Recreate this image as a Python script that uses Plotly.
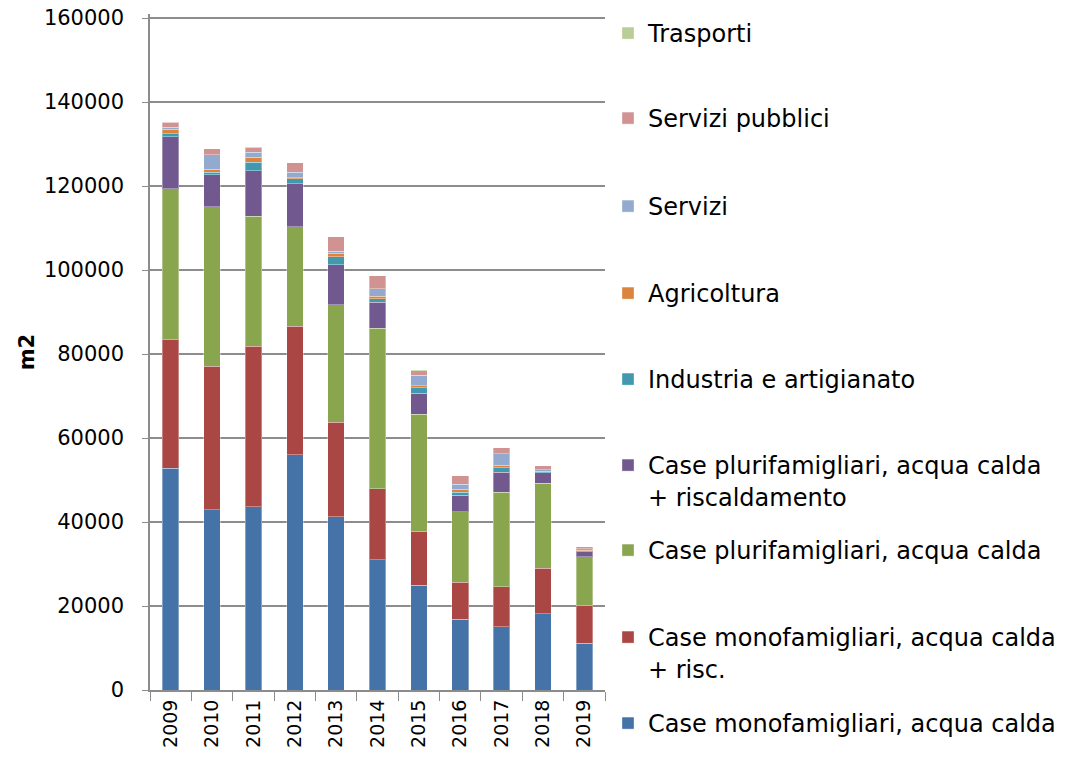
import plotly.graph_objects as go

years = ["2009", "2010", "2011", "2012", "2013", "2014", "2015", "2016", "2017", "2018", "2019"]

mono_acqua = [52800, 42900, 43600, 56000, 41200, 31000, 25000, 16900, 15100, 18200, 11100]
mono_risc = [30600, 34200, 38200, 30600, 22500, 16900, 12800, 8800, 9500, 10800, 9000]
pluri_acqua = [36000, 38000, 31000, 23700, 28000, 38200, 27800, 16700, 22500, 20200, 11600]
pluri_risc = [12300, 7600, 10800, 10200, 9600, 6200, 5100, 4000, 4800, 2500, 1200]
industria = [800, 600, 2000, 1200, 1900, 900, 1300, 700, 1000, 300, 300]
agricoltura = [1000, 700, 1200, 300, 800, 500, 500, 700, 600, 100, 100]
servizi = [500, 3500, 1200, 1300, 500, 1800, 2500, 1200, 2700, 400, 300]
servizi_pubblici = [1200, 1400, 1200, 2200, 3400, 3100, 1000, 2000, 1500, 900, 500]
trasporti = [0, 0, 0, 0, 0, 0, 200, 0, 0, 0, 0]

y_ticks = [0, 20000, 40000, 60000, 80000, 100000, 120000, 140000, 160000]

series = [
    ("Case monofamigliari, acqua calda", mono_acqua, "#4572A7"),
    ("Case monofamigliari, acqua calda<br>+ risc.", mono_risc, "#AA4643"),
    ("Case plurifamigliari, acqua calda", pluri_acqua, "#89A54E"),
    ("Case plurifamigliari, acqua calda<br>+ riscaldamento", pluri_risc, "#71588F"),
    ("Industria e artigianato", industria, "#4198AF"),
    ("Agricoltura", agricoltura, "#DB843D"),
    ("Servizi", servizi, "#93A9CF"),
    ("Servizi pubblici", servizi_pubblici, "#D19392"),
    ("Trasporti", trasporti, "#B9CD96"),
]

# legend first-line centre (pixel y) for each series
legend_px = [723, 637, 550, 465, 379, 293, 206, 118, 33]

W, H = 1083, 762
ML = 150
PR, PB = 605, 690
TOP160 = 18                # where 160000 should sit
EXTRA = 4                  # keep top gridline slightly inside the plot area
MT = TOP160 - EXTRA
MR, MB = W - PR, H - PB
PW, PH = PR - ML, PB - MT
YMAX = 160000 * PH / (PH - EXTRA)

fig = go.Figure()
layout_legends = {}
for i, (name, vals, col) in enumerate(series):
    lname = "legend" if i == 0 else f"legend{i+1}"
    fig.add_trace(go.Bar(
        x=years, y=vals, name=name,
        marker=dict(color=col, line=dict(color="rgba(255,255,255,0.35)", width=1)),
        legend=lname,
    ))
    top_px = legend_px[i] - 22
    layout_legends[lname] = dict(
        x=(608 - ML) / PW, xanchor="left",
        y=(PB - top_px) / PH, yanchor="top",
        valign="top",
        bgcolor="rgba(0,0,0,0)",
        font=dict(family="DejaVu Sans", size=24, color="#000000"),
        itemclick=False, itemdoubleclick=False,
    )

fig.update_layout(
    barmode="stack",
    bargap=0.6,
    width=W, height=H,
    margin=dict(l=ML, r=MR, t=MT, b=MB, pad=0, autoexpand=False),
    plot_bgcolor="white",
    paper_bgcolor="white",
    showlegend=True,
    font=dict(family="DejaVu Sans", color="#000000"),
    **layout_legends,
)

fig.update_yaxes(
    range=[0, YMAX],
    tickvals=y_ticks,
    ticktext=[str(v) for v in y_ticks],
    tickfont=dict(family="DejaVu Sans", size=21, color="#000000"),
    showgrid=True, gridcolor="#8C8C8C", gridwidth=2,
    showline=True, linecolor="#8C8C8C", linewidth=1.5,
    ticks="outside", ticklen=6, tickcolor="#8C8C8C",
    ticklabelstandoff=14, ticklabeloverflow="allow",
    zeroline=False, automargin=False,
    title=dict(text="<b>m2</b>", font=dict(family="DejaVu Sans", size=21, color="#000000"), standoff=4),
)

fig.update_xaxes(
    type="category",
    tickangle=-90,
    tickfont=dict(family="DejaVu Sans", size=19, color="#000000"),
    showline=True, linecolor="#8C8C8C", linewidth=2,
    ticks="outside", ticklen=9, tickcolor="#8C8C8C", tickson="boundaries",
    showgrid=False, automargin=False,
)

fig.write_html(
    "out.html",
    config={"displayModeBar": False},
    post_script="document.body.style.margin='0';document.body.style.overflow='hidden';",
)
